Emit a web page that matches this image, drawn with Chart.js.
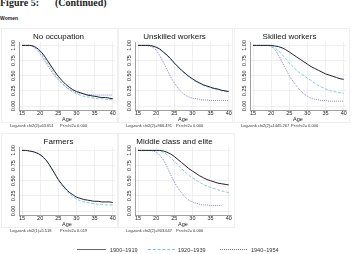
<!DOCTYPE html>
<html>
<head>
<meta charset="utf-8">
<script src="https://cdn.jsdelivr.net/npm/chart.js@4.4.1/dist/chart.umd.min.js"></script>
<style>
  html, body { margin: 0; padding: 0; background: #fff; }
  body { width: 352px; height: 254px; position: relative; overflow: hidden; font-family: "Liberation Sans", Arial, sans-serif; color: #222; }
  .abs { position: absolute; white-space: nowrap; }
  canvas { position: absolute; }
  .frame { position: absolute; border: 1px solid #efefef; }
  .lr { position: absolute; white-space: nowrap; font-size: 4px; line-height: 5px; color: #333; }
  .leg { position: absolute; white-space: nowrap; font-size: 5.5px; line-height: 6px; color: #333; }
</style>
</head>
<body>
<div class="abs" style="left:0;top:-3px;font:bold 10px 'Liberation Serif',serif;line-height:12px;">Figure 5:</div>
<div class="abs" style="left:55px;top:-3px;font:bold 10px 'Liberation Serif',serif;line-height:12px;">(Continued)</div>
<div class="abs" style="left:0;top:15px;font-weight:bold;font-size:5px;line-height:6px;">Women</div>

<script>
// ages on the x axis
const ages = [15, 16, 17, 18, 19, 20, 21, 22, 23, 24, 25, 26, 27, 28, 29, 30, 31, 32, 33, 34, 35, 36, 37, 38, 39, 40]
const xTicks = [15, 20, 25, 30, 35, 40]
const yTicks = [0, 0.25, 0.5, 0.75, 1]

const cohorts = ['1900\u20131919', '1920\u20131939', '1940\u20131954']

// No occupation
const noOcc1900 = [1, 1, 1, 0.99, 0.96, 0.91, 0.84, 0.75, 0.66, 0.57, 0.49, 0.42, 0.36, 0.31, 0.27, 0.24, 0.22, 0.2, 0.18, 0.17, 0.16, 0.15, 0.14, 0.14, 0.13, 0.12]
const noOcc1920 = [1, 1, 1, 0.99, 0.95, 0.89, 0.81, 0.71, 0.62, 0.53, 0.45, 0.38, 0.32, 0.27, 0.23, 0.2, 0.18, 0.16, 0.15, 0.14, 0.13, 0.12, 0.12, 0.11, 0.11, 0.1]
const noOcc1940 = [1, 1, 1, 0.98, 0.93, 0.86, 0.77, 0.67, 0.58, 0.5, 0.43, 0.37, 0.32, 0.28, 0.25, 0.22, 0.21, 0.2, 0.19, 0.19, 0.18, 0.18, 0.18, 0.18, 0.18, 0.18]

// Unskilled workers
const unsk1900 = [1, 1, 1, 1, 0.99, 0.97, 0.94, 0.89, 0.84, 0.78, 0.71, 0.65, 0.59, 0.54, 0.49, 0.45, 0.41, 0.38, 0.35, 0.33, 0.31, 0.29, 0.28, 0.26, 0.25, 0.24]
const unsk1920 = [1, 1, 1, 1, 0.99, 0.97, 0.93, 0.88, 0.83, 0.77, 0.7, 0.64, 0.58, 0.53, 0.48, 0.44, 0.4, 0.37, 0.34, 0.32, 0.3, 0.28, 0.27, 0.25, 0.24, 0.23]
const unsk1940 = [1, 1, 1, 0.99, 0.97, 0.92, 0.83, 0.72, 0.6, 0.48, 0.38, 0.3, 0.23, 0.18, 0.15, 0.13, 0.12, 0.11, 0.1, 0.1, 0.09, 0.09, 0.09, 0.09, 0.09, 0.09]

// Skilled workers
const skil1900 = [1, 1, 1, 1, 1, 1, 0.99, 0.98, 0.96, 0.93, 0.89, 0.85, 0.81, 0.77, 0.73, 0.69, 0.65, 0.62, 0.59, 0.56, 0.53, 0.51, 0.49, 0.47, 0.45, 0.44]
const skil1920 = [1, 1, 1, 1, 1, 0.99, 0.96, 0.91, 0.85, 0.78, 0.71, 0.65, 0.59, 0.54, 0.5, 0.46, 0.42, 0.38, 0.34, 0.31, 0.28, 0.26, 0.24, 0.23, 0.22, 0.21]
const skil1940 = [1, 1, 1, 1, 1, 0.98, 0.93, 0.84, 0.73, 0.61, 0.5, 0.41, 0.33, 0.26, 0.2, 0.16, 0.13, 0.11, 0.1, 0.09, 0.09, 0.08, 0.08, 0.08, 0.08, 0.08]

// Farmers (two cohorts only)
const farm1900 = [1, 1, 0.99, 0.98, 0.96, 0.93, 0.88, 0.81, 0.72, 0.62, 0.52, 0.44, 0.37, 0.31, 0.27, 0.23, 0.21, 0.19, 0.18, 0.17, 0.16, 0.16, 0.15, 0.15, 0.15, 0.14]
const farm1920 = [1, 1, 0.99, 0.98, 0.96, 0.92, 0.87, 0.8, 0.71, 0.61, 0.51, 0.42, 0.35, 0.29, 0.24, 0.2, 0.17, 0.15, 0.14, 0.13, 0.12, 0.11, 0.11, 0.1, 0.1, 0.1]

// Middle class and elite
const mid1900 = [1, 1, 1, 1, 1, 1, 1, 0.99, 0.97, 0.94, 0.9, 0.85, 0.8, 0.75, 0.7, 0.66, 0.62, 0.58, 0.55, 0.52, 0.5, 0.48, 0.46, 0.45, 0.44, 0.43]
const mid1920 = [1, 1, 1, 1, 1, 1, 0.99, 0.97, 0.93, 0.88, 0.82, 0.76, 0.7, 0.64, 0.59, 0.55, 0.51, 0.47, 0.44, 0.41, 0.39, 0.37, 0.35, 0.33, 0.32, 0.3]
const mid1940 = [1, 1, 1, 1, 0.99, 0.97, 0.92, 0.84, 0.73, 0.6, 0.48, 0.38, 0.3, 0.23, 0.18, 0.15, 0.13, 0.11, 0.1, 0.1, 0.09, 0.09, 0.09, 0.09, null, null]

const panelTitles = ['No occupation', 'Unskilled workers', 'Skilled workers', 'Farmers', 'Middle class and elite']
const logRank = ['Log-rank chi2(2)=63.651', 'Log-rank chi2(2)=966.491', 'Log-rank chi2(2)=1445.267', 'Log-rank chi2(1)=5.518', 'Log-rank chi2(2)=903.647']
const pValues = ['Pr>chi2= 0.000', 'Pr>chi2= 0.000', 'Pr>chi2= 0.000', 'Pr>chi2= 0.019', 'Pr>chi2= 0.000']
const panelSeries = [
  [noOcc1900, noOcc1920, noOcc1940],
  [unsk1900, unsk1920, unsk1940],
  [skil1900, skil1920, skil1940],
  [farm1900, farm1920],
  [mid1900, mid1920, mid1940]
]

const lineStyles = [
  { color: '#1e1e30', width: 1, dash: [] },
  { color: '#80c4d6', width: 0.9, dash: [3, 1.6] },
  { color: '#6c6cd2', width: 0.9, dash: [0.9, 1.1] }
]

// plot-area top-left of each panel
const origins = [[19, 42], [135, 42], [250, 42], [19, 147], [135, 147]]
const PLOT_W = 96
const PLOT_H = 68
const FONT = "'Liberation Sans', Arial, sans-serif"

function addText(cls, text, left, top) {
  const d = document.createElement('div')
  d.className = cls
  d.textContent = text
  d.style.left = left + 'px'
  d.style.top = top + 'px'
  document.body.appendChild(d)
}

function makePanel(idx) {
  const [ox, oy] = origins[idx]

  const frame = document.createElement('div')
  frame.className = 'frame'
  frame.style.left = (ox - 18) + 'px'
  frame.style.top = (oy - 14) + 'px'
  frame.style.width = (PLOT_W + 20) + 'px'
  frame.style.height = (PLOT_H + 25) + 'px'
  document.body.appendChild(frame)

  const cv = document.createElement('canvas')
  const w = PLOT_W + 17 + 6
  const h = PLOT_H + 11 + 22
  cv.width = w
  cv.height = h
  cv.style.left = (ox - 17) + 'px'
  cv.style.top = (oy - 11) + 'px'
  cv.style.width = w + 'px'
  cv.style.height = h + 'px'
  document.body.appendChild(cv)

  const datasets = panelSeries[idx].map((vals, i) => ({
    label: cohorts[i],
    data: vals.map((v, k) => ({ x: ages[k], y: v })),
    borderColor: lineStyles[i].color,
    borderWidth: lineStyles[i].width,
    borderDash: lineStyles[i].dash,
    pointRadius: 0,
    fill: false,
    cubicInterpolationMode: 'monotone',
    spanGaps: false
  }))

  new Chart(cv.getContext('2d'), {
    type: 'line',
    data: { datasets },
    options: {
      responsive: false,
      animation: false,
      devicePixelRatio: 1,
      layout: { padding: { left: 0, right: 6, top: 0, bottom: 10 } },
      plugins: {
        legend: { display: false },
        tooltip: { enabled: false },
        title: {
          display: true,
          text: panelTitles[idx],
          color: '#111',
          font: { family: FONT, size: 8, weight: 'normal', lineHeight: 1 },
          padding: { top: 2, bottom: 1 }
        }
      },
      scales: {
        x: {
          type: 'linear',
          min: 14.17,
          max: 40.63,
          afterBuildTicks: s => { s.ticks = xTicks.map(v => ({ value: v })) },
          afterFit: s => { s.height = 12 },
          grid: { color: '#e6e6e6', lineWidth: 0.6, drawTicks: false },
          border: { color: '#888', width: 0.8 },
          ticks: { color: '#222', padding: 0, maxRotation: 0, font: { family: FONT, size: 5.5 } },
          title: { display: true, text: 'Age', color: '#222', padding: 0, font: { family: FONT, size: 5.5, lineHeight: 1 } }
        },
        y: {
          type: 'linear',
          min: -0.066,
          max: 1.056,
          afterBuildTicks: s => { s.ticks = yTicks.map(v => ({ value: v })) },
          afterFit: s => { s.width = 17 },
          grid: { color: '#e6e6e6', lineWidth: 0.6, drawTicks: false },
          border: { color: '#888', width: 0.8 },
          ticks: {
            color: '#222',
            padding: 0,
            minRotation: 90,
            maxRotation: 90,
            crossAlign: 'center',
            font: { family: FONT, size: 5.5 },
            callback: v => v.toFixed(2)
          }
        }
      }
    }
  })

  addText('lr', logRank[idx], ox - 9, oy + 81)
  addText('lr', pValues[idx], ox + 41, oy + 81)
}

for (let i = 0; i < panelTitles.length; i++) {
  makePanel(i)
}

// legend
const legendX = [77, 148, 220]
const legendTextX = [110, 178, 251]
const borderKinds = ['solid', 'dashed', 'dotted']
for (let i = 0; i < cohorts.length; i++) {
  const ln = document.createElement('div')
  ln.style.position = 'absolute'
  ln.style.left = legendX[i] + 'px'
  ln.style.top = '249px'
  ln.style.width = (i === 0 ? 29 : 27) + 'px'
  ln.style.borderTop = '1px ' + borderKinds[i] + ' ' + (i === 0 ? '#666' : lineStyles[i].color)
  document.body.appendChild(ln)
  addText('leg', cohorts[i], legendTextX[i], 246.5)
}
</script>
</body>
</html>
